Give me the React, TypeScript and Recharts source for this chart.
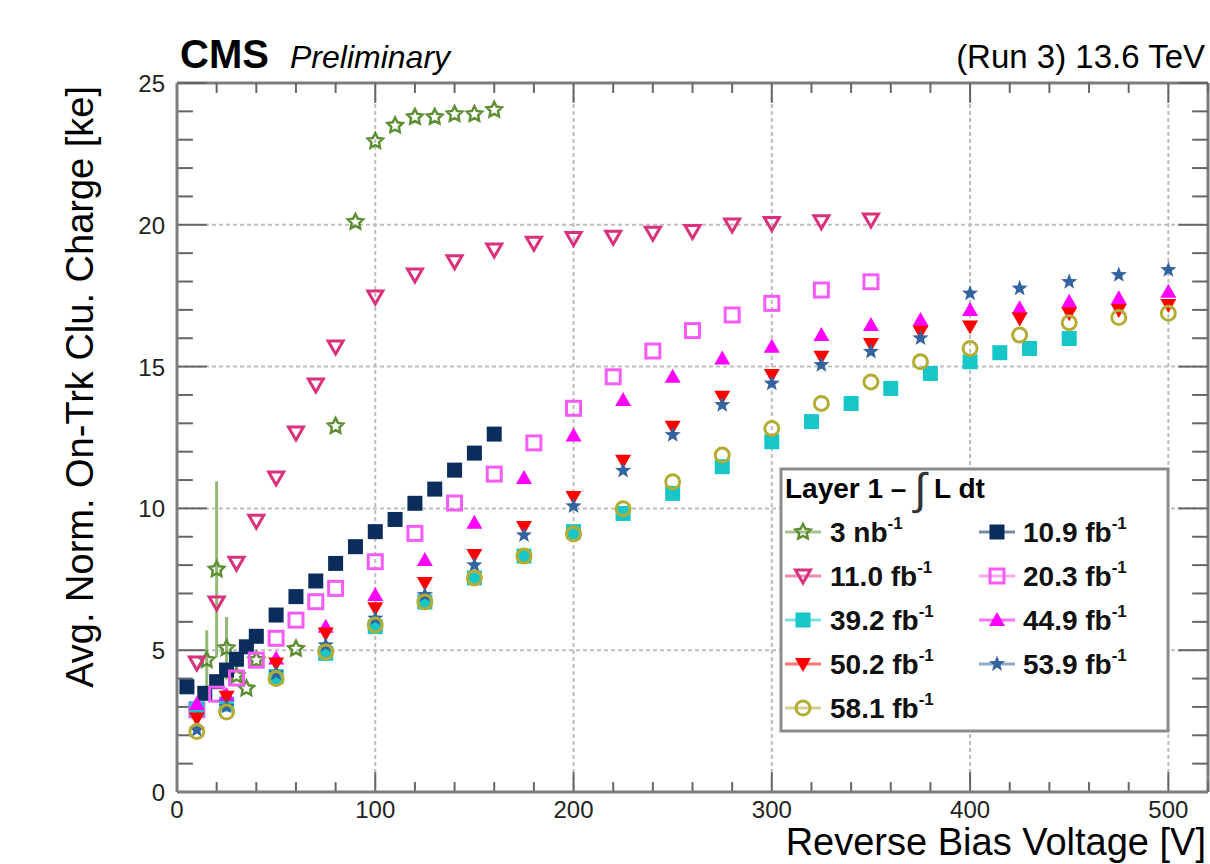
import React from "react";
import { ScatterChart, Scatter, XAxis, YAxis, CartesianGrid, ErrorBar, ReferenceLine } from "recharts";

const FONT = '"Liberation Sans", Arial, Helvetica, sans-serif';

// axis ticks
const xTicks = [0, 20, 40, 60, 80, 100, 120, 140, 160, 180, 200, 220, 240, 260, 280, 300, 320, 340, 360, 380, 400, 420, 440, 460, 480, 500, 520];
const yTicks = [0, 1, 2, 3, 4, 5, 6, 7, 8, 9, 10, 11, 12, 13, 14, 15, 16, 17, 18, 19, 20, 21, 22, 23, 24, 25];
const xGrid = [100, 200, 300, 400, 500];
const yGrid = [5, 10, 15, 20];

// 3 nb^-1
const v3nb = [15, 20, 25, 30, 35, 40, 60, 80, 90, 100, 110, 120, 130, 140, 150, 160];
const q3nb = [4.65, 7.85, 5.07, 4.1, 3.65, 4.65, 5.05, 12.9, 20.1, 22.95, 23.5, 23.8, 23.8, 23.9, 23.9, 24.05];
const e3nb = [1.05, 3.1, 1.1, 0, 0, 0, 0, 0, 0, 0, 0, 0, 0, 0, 0, 0];

// 11.0 fb^-1
const v110 = [10, 20, 30, 40, 50, 60, 70, 80, 100, 120, 140, 160, 180, 200, 220, 240, 260, 280, 300, 325, 350];
const q110 = [4.55, 6.66, 8.07, 9.55, 11.07, 12.66, 14.35, 15.69, 17.45, 18.23, 18.7, 19.11, 19.35, 19.52, 19.56, 19.7, 19.76, 19.99, 20.05, 20.11, 20.17];

// 10.9 fb^-1
const v109 = [5, 14, 20, 25, 30, 35, 40, 50, 60, 70, 80, 90, 100, 110, 120, 130, 140, 150, 160];
const q109 = [3.71, 3.48, 3.89, 4.3, 4.68, 5.12, 5.49, 6.24, 6.89, 7.44, 8.06, 8.65, 9.18, 9.61, 10.18, 10.68, 11.35, 11.95, 12.62];

// 20.3 fb^-1
const v203 = [10, 20, 30, 40, 50, 60, 70, 80, 100, 120, 140, 160, 180, 200, 220, 240, 260, 280, 300, 325, 350];
const q203 = [2.9, 3.45, 4.02, 4.65, 5.42, 6.06, 6.71, 7.18, 8.12, 9.12, 10.19, 11.21, 12.31, 13.53, 14.64, 15.55, 16.27, 16.82, 17.23, 17.7, 17.99];

// 39.2 fb^-1
const v392 = [10, 25, 50, 75, 100, 125, 150, 175, 200, 225, 250, 275, 300, 320, 340, 360, 380, 400, 415, 430, 450];
const q392 = [2.93, 3.1, 4.07, 4.89, 5.83, 6.7, 7.55, 8.32, 9.18, 9.82, 10.53, 11.47, 12.35, 13.06, 13.7, 14.23, 14.76, 15.17, 15.49, 15.64, 15.99];

// voltages shared by 44.9 / 50.2 / 53.9 / 58.1
const vHigh = [10, 25, 50, 75, 100, 125, 150, 175, 200, 225, 250, 275, 300, 325, 350, 375, 400, 425, 450, 475, 500];
const q449 = [3.1, 3.42, 4.71, 5.83, 6.95, 8.18, 9.49, 11.07, 12.57, 13.82, 14.64, 15.29, 15.7, 16.11, 16.47, 16.64, 17.0, 17.06, 17.29, 17.41, 17.64];
const q502 = [2.59, 3.36, 4.53, 5.59, 6.48, 7.37, 8.36, 9.34, 10.4, 11.68, 12.88, 13.94, 14.7, 15.35, 15.8, 16.23, 16.41, 16.7, 16.88, 17.0, 17.17];
const q539 = [2.19, 3.01, 4.18, 5.18, 6.12, 6.95, 8.0, 9.06, 10.08, 11.33, 12.59, 13.65, 14.41, 15.06, 15.53, 16.0, 17.58, 17.76, 17.99, 18.23, 18.41];
const q581 = [2.13, 2.82, 4.0, 4.94, 5.89, 6.7, 7.55, 8.32, 9.1, 9.99, 10.94, 11.88, 12.82, 13.7, 14.46, 15.17, 15.64, 16.11, 16.55, 16.73, 16.88];

const X_MAX = 520;
const Y_MAX = 25;
// inward tick lengths, in axis units (about 20/10 px on x, 30/16 px on y)
const xTickLen = { major: 0.7, minor: 0.35 };
const yTickLen = { major: 15, minor: 8 };

const pts = (v: number[], q: number[], e?: number[]) =>
  v.map((x, i) => ({ v: x, q: q[i], err: e ? e[i] : 0 }));

type Kind = "openStar" | "openTriDown" | "square" | "openSquare" | "triUp" | "triDown" | "star" | "openCircle";

const series: { name: string; unit: string; color: string; kind: Kind; data: any[] }[] = [
  { name: "3 nb", unit: "-1", color: "#5e8f34", kind: "openStar", data: pts(v3nb, q3nb, e3nb) },
  { name: "10.9 fb", unit: "-1", color: "#0b2d5c", kind: "square", data: pts(v109, q109) },
  { name: "11.0 fb", unit: "-1", color: "#d9317c", kind: "openTriDown", data: pts(v110, q110) },
  { name: "20.3 fb", unit: "-1", color: "#f55cf5", kind: "openSquare", data: pts(v203, q203) },
  { name: "39.2 fb", unit: "-1", color: "#17c6c6", kind: "square", data: pts(v392, q392) },
  { name: "44.9 fb", unit: "-1", color: "#ff00ff", kind: "triUp", data: pts(vHigh, q449) },
  { name: "50.2 fb", unit: "-1", color: "#ff0000", kind: "triDown", data: pts(vHigh, q502) },
  { name: "53.9 fb", unit: "-1", color: "#3464a0", kind: "star", data: pts(vHigh, q539) },
  { name: "58.1 fb", unit: "-1", color: "#b3ad33", kind: "openCircle", data: pts(vHigh, q581) },
];

function starPoints(cx: number, cy: number, r: number, inner: number) {
  const p: string[] = [];
  for (let i = 0; i < 10; i++) {
    const rr = i % 2 === 0 ? r : r * inner;
    const a = -Math.PI / 2 + (i * Math.PI) / 5;
    p.push(`${cx + rr * Math.cos(a)},${cy + rr * Math.sin(a)}`);
  }
  return p.join(" ");
}

function Marker({ kind, cx, cy, color }: { kind: Kind; cx: number; cy: number; color: string }) {
  if (cx == null || cy == null) return null;
  switch (kind) {
    case "square":
      return <rect x={cx - 7.5} y={cy - 7.5} width={15} height={15} fill={color} />;
    case "openSquare":
      return <rect x={cx - 7} y={cy - 7} width={14} height={14} fill="none" stroke={color} strokeWidth={3} />;
    case "triUp":
      return <polygon points={`${cx},${cy - 8} ${cx + 8},${cy + 6} ${cx - 8},${cy + 6}`} fill={color} />;
    case "triDown":
      return <polygon points={`${cx},${cy + 8} ${cx + 8},${cy - 6} ${cx - 8},${cy - 6}`} fill={color} />;
    case "openTriDown":
      return <polygon points={`${cx},${cy + 7} ${cx + 7.5},${cy - 6} ${cx - 7.5},${cy - 6}`} fill="none" stroke={color} strokeWidth={3} />;
    case "openCircle":
      return <circle cx={cx} cy={cy} r={7} fill="none" stroke={color} strokeWidth={3} />;
    case "star":
      return <polygon points={starPoints(cx, cy, 8.5, 0.42)} fill={color} />;
    case "openStar":
      return <polygon points={starPoints(cx, cy, 8, 0.5)} fill="none" stroke={color} strokeWidth={2.5} />;
  }
  return null;
}

// labels only on major ticks; the tick marks themselves are drawn inside the frame
const XLabel = (props: any) => {
  const { x, y, payload } = props;
  const v = payload.value;
  if (v % 100 !== 0) return <g />;
  return (
    <text x={x} y={y + 26} textAnchor="middle" fontSize={24} fontFamily={FONT} fill="#222">
      {v}
    </text>
  );
};

const YLabel = (props: any) => {
  const { x, y, payload } = props;
  const v = payload.value;
  if (v % 5 !== 0) return <g />;
  return (
    <text x={x - 12} y={y + 9} textAnchor="end" fontSize={24} fontFamily={FONT} fill="#222">
      {v}
    </text>
  );
};

// legend layout: [series index, column, row]
const legendCells = [
  [0, 0, 0], [1, 1, 0],
  [2, 0, 1], [3, 1, 1],
  [4, 0, 2], [5, 1, 2],
  [6, 0, 3], [7, 1, 3],
  [8, 0, 4],
];

export default function App() {
  const frame = { stroke: "#7d7d7d", strokeWidth: 3 };
  const tickStyle = { stroke: "#666", strokeWidth: 2, ifOverflow: "visible" as const };
  return (
    <div style={{ position: "fixed", left: 0, top: 0, width: 1210, height: 864, overflow: "hidden", background: "#fff", fontFamily: FONT }}>
      <ScatterChart width={1210} height={864} margin={{ top: 83, right: 2, bottom: 0, left: 0 }}>
        <CartesianGrid
          horizontalValues={yGrid}
          verticalValues={xGrid}
          stroke="#bdbdbd"
          strokeWidth={2}
          strokeDasharray="4 3"
        />
        <XAxis
          type="number"
          dataKey="v"
          domain={[0, X_MAX]}
          ticks={xTicks}
          interval={0}
          height={72}
          tickSize={0}
          tickMargin={0}
          tickLine={false}
          axisLine={frame}
          tick={<XLabel />}
          allowDataOverflow
        />
        <YAxis
          type="number"
          dataKey="q"
          domain={[0, Y_MAX]}
          ticks={yTicks}
          interval={0}
          width={177}
          tickSize={0}
          tickMargin={0}
          tickLine={false}
          axisLine={frame}
          tick={<YLabel />}
          allowDataOverflow
        />
        {/* top and right frame edges */}
        <ReferenceLine y={Y_MAX} stroke="#7d7d7d" strokeWidth={3} ifOverflow="visible" />
        <ReferenceLine x={X_MAX} stroke="#7d7d7d" strokeWidth={3} ifOverflow="visible" />

        {xTicks.map((v) => {
          const len = v % 100 === 0 ? xTickLen.major : xTickLen.minor;
          return [
            <ReferenceLine key={`xb${v}`} segment={[{ x: v, y: 0 }, { x: v, y: len }]} {...tickStyle} />,
            <ReferenceLine key={`xt${v}`} segment={[{ x: v, y: Y_MAX }, { x: v, y: Y_MAX - len }]} {...tickStyle} />,
          ];
        })}
        {yTicks.map((v) => {
          const len = v % 5 === 0 ? yTickLen.major : yTickLen.minor;
          return [
            <ReferenceLine key={`yl${v}`} segment={[{ x: 0, y: v }, { x: len, y: v }]} {...tickStyle} />,
            <ReferenceLine key={`yr${v}`} segment={[{ x: X_MAX, y: v }, { x: X_MAX - len, y: v }]} {...tickStyle} />,
          ];
        })}

        {series.map((s) => (
          <Scatter
            key={s.name}
            name={s.name}
            data={s.data}
            isAnimationActive={false}
            shape={(p: any) => <Marker kind={s.kind} cx={p.cx} cy={p.cy} color={s.color} />}
          >
            {s.kind === "openStar" && (
              <ErrorBar dataKey="err" direction="y" width={0} stroke="#93b974" strokeWidth={3} />
            )}
          </Scatter>
        ))}
      </ScatterChart>

      <svg width={1210} height={864} style={{ position: "absolute", left: 0, top: 0, pointerEvents: "none" }} fontFamily={FONT}>
        <text x={180} y={68} fontSize={40} fontWeight="bold" fill="#000">CMS</text>
        <text x={290} y={68} fontSize={32} fontStyle="italic" fill="#000">Preliminary</text>
        <text x={1205} y={68} fontSize={33} textAnchor="end" fill="#000">(Run 3) 13.6 TeV</text>

        <text x={1206} y={855} fontSize={38} textAnchor="end" fill="#000">Reverse Bias Voltage [V]</text>
        <text transform="translate(93,86) rotate(-90)" fontSize={38} textAnchor="end" fill="#000">
          Avg. Norm. On-Trk Clu. Charge [ke]
        </text>

        <g>
          <rect x={781} y={469} width={387} height={262} fill="#fff" stroke="#8c8c8c" strokeWidth={3} />
          <text x={785} y={498} fontSize={28} fontWeight="bold" fill="#000">
            Layer 1 {"\u2013"} <tspan fontWeight="normal" fontSize={44} dy={6} fill="#333">{"\u222B"}</tspan>
            <tspan dy={-6}> L dt</tspan>
          </text>
          {legendCells.map(([si, col, row]) => {
            const s = series[si];
            const mx = col === 0 ? 803 : 997;
            const tx = col === 0 ? 830 : 1023;
            const cy = 532 + row * 44;
            return (
              <g key={s.name}>
                <line x1={mx - 18} x2={mx + 18} y1={cy} y2={cy} stroke={s.color} strokeOpacity={0.55} strokeWidth={3} />
                <Marker kind={s.kind} cx={mx} cy={cy} color={s.color} />
                <text x={tx} y={cy + 10} fontSize={28} fontWeight="bold" fill="#111">
                  {s.name}
                  <tspan dy={-13} fontSize={17}>{s.unit}</tspan>
                </text>
              </g>
            );
          })}
        </g>
      </svg>
    </div>
  );
}
